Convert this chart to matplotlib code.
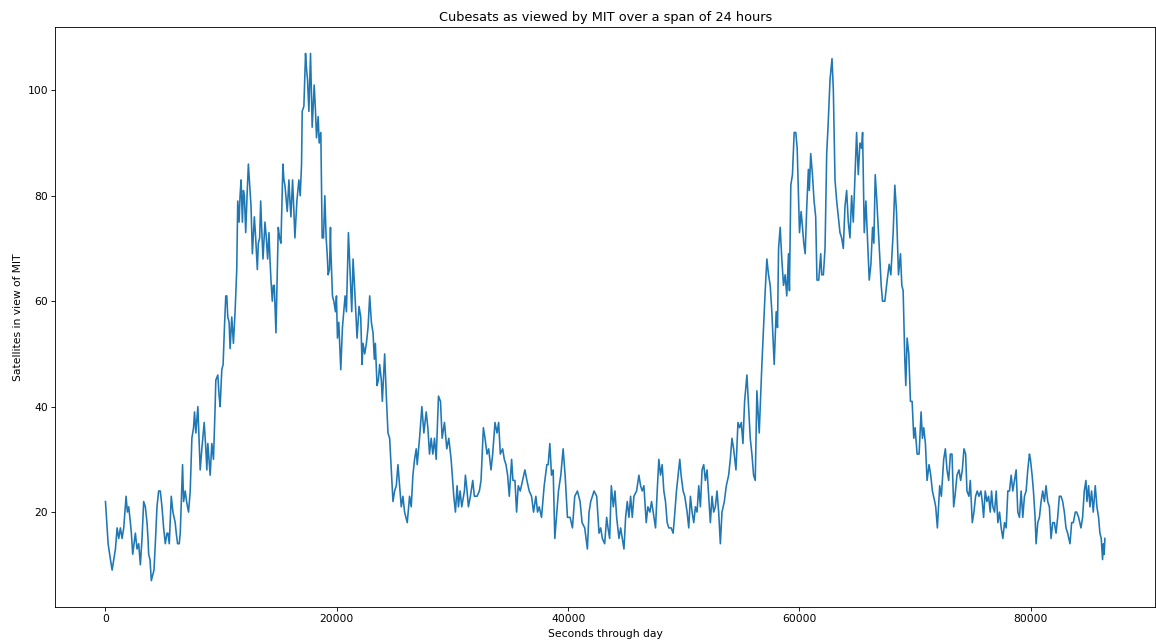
import matplotlib
matplotlib.use("Agg")
import matplotlib.pyplot as plt

# seconds since midnight and number of cubesats above the horizon at MIT
seconds = [
    0, 230, 431, 575, 718, 862, 1006, 1149, 1293, 1437, 1580, 1782, 1896, 2011,
    2155, 2241, 2356, 2471, 2586, 2730, 2873, 3017, 3160, 3304, 3448, 3592, 3678,
    3735, 3850, 3965, 4080, 4195, 4310, 4454, 4598, 4741, 4885, 5029, 5172, 5316,
    5402, 5517, 5689, 5833, 6029, 6120, 6235, 6379, 6465, 6666, 6752, 6896, 7011,
    7183, 7327, 7471, 7614, 7700, 7815, 7988, 8189, 8333, 8534, 8677, 8764, 8850,
    9051, 9195, 9338, 9482, 9539, 9712, 9827, 9913, 10057, 10171, 10286, 10401,
    10488, 10574, 10689, 10775, 10919, 11062, 11206, 11350, 11436, 11551, 11637,
    11723, 11838, 11924, 12010, 12125, 12240, 12355, 12470, 12585, 12700, 12872,
    12987, 13130, 13217, 13332, 13418, 13504, 13619, 13791, 13906, 14021, 14136,
    14222, 14308, 14423, 14509, 14595, 14739, 14854, 14940, 15055, 15170, 15342,
    15429, 15515, 15630, 15716, 15860, 15946, 16032, 16176, 16291, 16377, 16549,
    16722, 16837, 16952, 17010, 17154, 17297, 17384, 17470, 17585, 17728, 17815,
    17872, 17958, 18044, 18159, 18246, 18389, 18476, 18619, 18734, 18849, 18964,
    19079, 19166, 19252, 19367, 19453, 19481, 19625, 19740, 19884, 19970, 20056,
    20171, 20343, 20487, 20602, 20717, 20832, 21005, 21177, 21292, 21407, 21551,
    21752, 21924, 22068, 22183, 22269, 22413, 22557, 22700, 22844, 22988, 23131,
    23246, 23332, 23476, 23591, 23706, 23849, 23936, 24137, 24280, 24424, 24568,
    24711, 24855, 24999, 25142, 25285, 25429, 25573, 25716, 25860, 26090, 26291,
    26435, 26579, 26722, 26866, 26952, 27153, 27354, 27527, 27728, 27871, 28015,
    28159, 28302, 28446, 28590, 28791, 28963, 29107, 29308, 29509, 29681, 29883,
    30113, 30256, 30400, 30515, 30659, 30802, 31032, 31118, 31262, 31377, 31550,
    31751, 31894, 32124, 32325, 32469, 32670, 32814, 32986, 33130, 33331, 33475,
    33676, 33848, 33992, 34136, 34337, 34481, 34624, 34768, 34911, 35113, 35227,
    35400, 35543, 35687, 35859, 36060, 36261, 36434, 36635, 36836, 37008, 37210,
    37353, 37497, 37698, 37928, 38158, 38273, 38416, 38560, 38704, 38847, 39020,
    39163, 39365, 39566, 39738, 39939, 40169, 40370, 40571, 40801, 41031, 41203,
    41433, 41663, 41807, 41950, 42238, 42468, 42669, 42812, 42956, 43157, 43330,
    43445, 43588, 43732, 43905, 44048, 44192, 44393, 44537, 44680, 44824, 44968,
    45111, 45255, 45399, 45542, 45686, 45916, 46117, 46261, 46404, 46548, 46749,
    46893, 47065, 47209, 47353, 47554, 47697, 47841, 47985, 48128, 48272, 48416,
    48559, 48703, 48904, 49076, 49191, 49364, 49507, 49651, 49766, 49938, 50082,
    50283, 50427, 50570, 50714, 50858, 51001, 51145, 51289, 51432, 51576, 51720,
    51863, 52007, 52151, 52294, 52438, 52582, 52725, 52869, 53013, 53157, 53300,
    53501, 53674, 53875, 54019, 54162, 54306, 54507, 54680, 54823, 54967, 55111,
    55254, 55455, 55599, 55743, 55886, 56030, 56174, 56317, 56518, 56748, 56892,
    57036, 57179, 57323, 57467, 57610, 57812, 57984, 58099, 58190, 58330, 58470,
    58620, 58760, 58900, 59050, 59130, 59250, 59390, 59540, 59680, 59800, 59910,
    60000, 60140, 60260, 60370, 60490, 60630, 60770, 60850, 60970, 61120, 61260,
    61400, 61510, 61662, 61834, 61920, 62064, 62208, 62351, 62466, 62639, 62811,
    62926, 63070, 63214, 63357, 63501, 63644, 63788, 63932, 64075, 64219, 64363,
    64506, 64650, 64851, 64937, 65081, 65225, 65368, 65454, 65598, 65742, 65857,
    66029, 66173, 66316, 66431, 66546, 66661, 66834, 66949, 67063, 67178, 67379,
    67581, 67753, 67897, 68098, 68242, 68386, 68558, 68730, 68845, 68960, 69104,
    69190, 69305, 69449, 69592, 69736, 69880, 69995, 70167, 70339, 70512, 70627,
    70742, 70885, 71029, 71201, 71345, 71489, 71690, 71776, 71920, 72121, 72265,
    72466, 72610, 72753, 72897, 73041, 73184, 73328, 73443, 73615, 73788, 73931,
    74075, 74219, 74362, 74477, 74650, 74765, 74937, 75081, 75224, 75368, 75511,
    75684, 75799, 75914, 76057, 76201, 76345, 76488, 76603, 76718, 76862, 77005,
    77149, 77293, 77436, 77580, 77724, 77867, 78011, 78155, 78298, 78442, 78586,
    78729, 78873, 79017, 79160, 79304, 79448, 79591, 79735, 79879, 79965, 80109,
    80224, 80367, 80454, 80597, 80741, 80885, 81028, 81172, 81315, 81459, 81603,
    81746, 81890, 82034, 82177, 82321, 82465, 82608, 82752, 82896, 83039, 83183,
    83384, 83528, 83671, 83844, 83959, 84131, 84332, 84476, 84620, 84763, 84850,
    84993, 85108, 85252, 85396, 85568, 85712, 85856, 85971, 86086, 86200, 86280,
    86340, 86400,
]

in_view = [
    22, 14, 11, 9, 11, 13, 17, 15, 17, 15, 17, 23, 20, 21,
    18, 16, 12, 14, 16, 13, 14, 10, 15, 22, 21, 18, 15,
    12, 11, 7, 8, 9, 14, 21, 24, 24, 21, 17, 14, 16,
    16, 14, 23, 20, 18, 16, 14, 14, 16, 29, 22, 24, 22,
    20, 24, 34, 36, 39, 35, 40, 28, 32, 37, 32, 28, 33,
    27, 33, 30, 40, 45, 46, 42, 40, 47, 48, 55, 61,
    61, 57, 56, 51, 57, 52, 58, 66, 79, 75, 80,
    83, 75, 81, 80, 73, 80, 86, 82, 78, 69, 76,
    72, 66, 71, 72, 79, 74, 68, 75, 72, 68, 73,
    68, 64, 60, 63, 63, 54, 65, 74, 72, 71, 86,
    83, 82, 79, 77, 83, 79, 76, 83, 77, 72, 79,
    83, 80, 86, 96, 97, 107, 104, 102, 96, 107, 99,
    93, 97, 101, 96, 91, 95, 90, 92, 72, 72, 80,
    72, 69, 65, 66, 74, 70, 61, 60, 58, 61, 53,
    56, 47, 55, 58, 61, 58, 73, 64, 58, 68, 62,
    53, 59, 57, 48, 52, 50, 52, 55, 61, 56, 54,
    49, 52, 44, 45, 48, 45, 41, 50, 42, 35, 34,
    28, 22, 24, 25, 29, 25, 21, 23, 20, 18, 23,
    21, 27, 30, 32, 29, 34, 40, 35, 39, 36, 31,
    34, 31, 34, 30, 42, 41, 34, 37, 32, 34, 30,
    23, 20, 25, 21, 24, 21, 24, 27, 24, 21, 23,
    26, 23, 23, 24, 26, 36, 34, 31, 32, 28, 31,
    37, 35, 37, 31, 32, 30, 29, 27, 23, 30, 26,
    26, 20, 25, 24, 26, 28, 26, 24, 23, 20, 23,
    20, 21, 19, 25, 29, 29, 33, 27, 28, 15, 20,
    24, 27, 32, 27, 19, 19, 17, 23, 24, 22, 18,
    17, 13, 20, 22, 24, 23, 16, 17, 15, 14, 19,
    17, 15, 25, 21, 24, 19, 15, 17, 15, 13, 19,
    22, 19, 23, 19, 23, 24, 27, 25, 24, 25, 18,
    21, 20, 22, 20, 17, 24, 30, 27, 29, 24, 22,
    18, 17, 17, 16, 19, 24, 27, 30, 27, 24, 23,
    20, 17, 23, 20, 18, 21, 20, 25, 21, 28, 29,
    26, 28, 23, 18, 23, 20, 21, 24, 20, 14, 20,
    22, 25, 27, 30, 34, 32, 28, 37, 36, 37, 33,
    41, 46, 40, 34, 31, 27, 26, 43, 35, 48, 55,
    62, 68, 65, 63, 58, 48, 58, 55, 70, 74, 68,
    63, 65, 61, 69, 62, 82, 84, 92, 92, 89, 80,
    73, 77, 74, 71, 69, 78, 85, 81, 88, 84, 79,
    76, 64, 64, 69, 65, 65, 70, 88, 93, 102, 106,
    100, 83, 79, 76, 73, 72, 70, 78, 81, 75, 72,
    80, 75, 87, 92, 84, 90, 89, 92, 73, 79, 73,
    64, 67, 74, 71, 84, 80, 73, 68, 63, 60, 60,
    64, 67, 65, 73, 82, 77, 65, 69, 63, 62, 49,
    44, 53, 50, 41, 41, 34, 36, 31, 31, 39, 34,
    36, 33, 26, 29, 27, 24, 22, 21, 17, 25, 23,
    30, 32, 28, 26, 31, 31, 21, 23, 27, 28, 26,
    28, 32, 31, 24, 23, 26, 18, 20, 23, 24, 23,
    24, 22, 19, 24, 22, 23, 20, 24, 21, 20, 24,
    18, 20, 17, 15, 18, 17, 24, 24, 27, 24, 26,
    28, 20, 19, 24, 19, 23, 24, 28, 31, 30, 27,
    24, 19, 14, 18, 19, 22, 24, 22, 25, 22, 21,
    15, 18, 18, 16, 19, 23, 23, 22, 20, 17, 16,
    14, 18, 18, 20, 20, 19, 17, 19, 24, 26, 22,
    25, 21, 24, 20, 25, 21, 19, 16, 15, 11, 14,
    12, 15,
]

# the reference looks like a bigger figure shrunk down, so draw at a lower dpi
DPI = 77
fig, ax = plt.subplots(figsize=(1156 / DPI, 643 / DPI), dpi=DPI)
fig.subplots_adjust(left=0.048, right=0.999, top=0.958, bottom=0.056)

ax.plot(seconds, in_view)
ax.set_title("Cubesats as viewed by MIT over a span of 24 hours")
ax.set_xlabel("Seconds through day")
ax.set_ylabel("Satellites in view of MIT")

fig.savefig("out.png", dpi=DPI)
